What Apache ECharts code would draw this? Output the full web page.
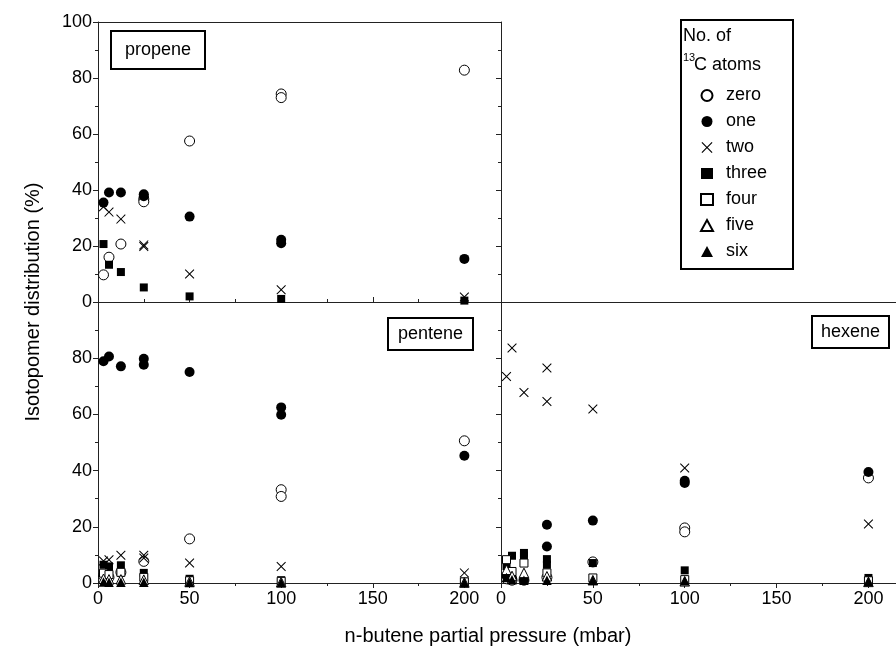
<!DOCTYPE html>
<html>
<head>
<meta charset="utf-8">
<script src="https://cdn.jsdelivr.net/npm/echarts@6/dist/echarts.min.js"></script>
<style>
  html, body { margin: 0; padding: 0; background: #fff; }
  #main { width: 896px; height: 657px; }
</style>
</head>
<body>
<div id="main"></div>
<script>
// number of 13C atoms in the product molecule
const atomNames = ['zero', 'one', 'two', 'three', 'four', 'five', 'six'];
const xTickValues = [0, 50, 100, 150, 200];

// propene  [n-butene pressure (mbar), isotopomer share (%)]
const propeneZero = [[3, 9.7], [6, 16], [12.5, 20.7], [25, 36.8], [25, 35.8], [50, 57.5], [100, 74.3], [100, 73], [200, 82.8]];
const propeneOne = [[3, 35.5], [6, 39.1], [12.5, 39.1], [25, 38.5], [25, 37.8], [50, 30.5], [100, 22.2], [100, 21], [200, 15.4]];
const propeneTwo = [[3, 34], [6, 32.1], [12.5, 29.6], [25, 20.4], [25, 19.8], [50, 10], [100, 4.4], [200, 1.8]];
const propeneThree = [[3, 20.7], [6, 13.3], [12.5, 10.7], [25, 5.2], [50, 2], [100, 1.1], [200, 0.5]];
const propeneFour = [];
const propeneFive = [];
const propeneSix = [];

// pentene
const penteneZero = [[3, 2.5], [6, 2], [12.5, 3.8], [25, 7.7], [50, 15.7], [100, 33.2], [100, 30.8], [200, 50.6]];
const penteneOne = [[3, 78.9], [6, 80.6], [12.5, 77.1], [25, 79.8], [25, 77.7], [50, 75.1], [100, 62.5], [100, 59.9], [200, 45.3]];
const penteneTwo = [[3, 7.8], [6, 8.3], [12.5, 9.9], [25, 9.9], [25, 8.9], [50, 7.1], [100, 5.9], [200, 3.6]];
const penteneThree = [[3, 6.5], [6, 5.9], [12.5, 6.3], [25, 3.6], [50, 1.5], [100, 1], [200, 0.5]];
const penteneFour = [[3, 3.5], [6, 3], [12.5, 3.8], [25, 2], [50, 0.8], [100, 0.6], [200, 0.4]];
const penteneFive = [[3, 1.5], [6, 1.3], [12.5, 1.3], [25, 1.2], [50, 0.5], [100, 0.3], [200, 0.2]];
const penteneSix = [[3, 0.4], [6, 0.3], [12.5, 0.3], [25, 0.3], [50, 0.2], [100, 0.1], [200, 0.1]];

// hexene
const hexeneZero = [[3, 1.5], [6, 1], [12.5, 1], [25, 2], [50, 7.5], [100, 19.6], [100, 18.2], [200, 37.4]];
const hexeneOne = [[3, 2.5], [6, 1.8], [12.5, 1.2], [25, 20.7], [25, 13], [50, 22.2], [100, 36.4], [100, 35.6], [200, 39.5]];
const hexeneTwo = [[3, 73.5], [6, 83.6], [12.5, 67.8], [25, 76.5], [25, 64.6], [50, 61.9], [100, 40.9], [200, 21]];
const hexeneThree = [[3, 6], [6, 9.7], [12.5, 10.7], [12.5, 9.7], [25, 8.5], [25, 6.5], [50, 7.1], [100, 4.5], [200, 1.8]];
const hexeneFour = [[3, 8.3], [6, 4.1], [12.5, 7.1], [25, 3.6], [50, 1.8], [100, 1.2], [200, 0.8]];
const hexeneFive = [[3, 4.7], [6, 2.5], [12.5, 3.6], [25, 2.4], [50, 1], [100, 0.6], [200, 0.4]];
const hexeneSix = [[3, 2], [6, 1.2], [12.5, 1], [25, 1], [50, 1], [100, 0.8], [200, 0.5]];

const font = 'Liberation Sans';
const lineCol = '#222';
// thin x drawn as a filled outline
const crossPath = 'path://M0,1.5L1.5,0L10,8.5L18.5,0L20,1.5L11.5,10L20,18.5L18.5,20L10,11.5L1.5,20L0,18.5L8.5,10Z';

const markers = [
  { symbol: 'circle', size: 10, filled: false },
  { symbol: 'circle', size: 10, filled: true },
  { symbol: crossPath, size: 9.5, filled: true },
  { symbol: 'rect', size: 8, filled: true },
  { symbol: 'rect', size: 8, filled: false },
  { symbol: 'triangle', size: 9.5, filled: false },
  { symbol: 'triangle', size: 9.5, filled: true }
];

function makeSeries (panelData, xIdx, yIdx) {
  return panelData.map((d, i) => {
    const m = markers[i];
    return {
      name: atomNames[i],
      type: 'scatter',
      xAxisIndex: xIdx,
      yAxisIndex: yIdx,
      data: d,
      symbol: m.symbol,
      symbolSize: m.size,
      itemStyle: m.filled
        ? { color: '#000', borderWidth: 0, opacity: 1 }
        : { color: '#fff', borderColor: '#000', borderWidth: 1, opacity: 1 },
      emphasis: { disabled: true },
      z: 3 + i * 0.01
    };
  });
}

// axis helpers
function lineOnly (extra) {
  return Object.assign({
    type: 'value',
    axisLine: { show: true, onZero: false, lineStyle: { color: lineCol, width: 1 } },
    axisTick: { show: false },
    axisLabel: { show: false },
    splitLine: { show: false }
  }, extra);
}

function xBottom (grid, max, withLabels, inside) {
  return {
    type: 'value', gridIndex: grid, position: 'bottom', min: 0, max: max, interval: 50,
    axisLine: { show: true, onZero: false, lineStyle: { color: lineCol, width: 1 } },
    axisTick: { show: true, inside: inside, length: 5, lineStyle: { color: lineCol } },
    minorTick: { show: true, splitNumber: 2, length: 3, lineStyle: { color: lineCol } },
    axisLabel: {
      show: withLabels, margin: 7, fontSize: 18, fontFamily: font, color: '#000',
      showMaxLabel: false,
      formatter: v => (xTickValues.indexOf(v) >= 0 ? String(v) : '')
    },
    splitLine: { show: false }
  };
}

function yLeft (grid, showTop) {
  return {
    type: 'value', gridIndex: grid, position: 'left', min: 0, max: 100, interval: 20,
    axisLine: { show: true, onZero: false, lineStyle: { color: lineCol, width: 1 } },
    axisTick: { show: true, inside: false, length: 5, lineStyle: { color: lineCol } },
    minorTick: { show: true, splitNumber: 2, length: 3, lineStyle: { color: lineCol } },
    axisLabel: { margin: 6, fontSize: 18, fontFamily: font, color: '#000', showMaxLabel: showTop },
    splitLine: { show: false }
  };
}

function yRight (grid) {
  return {
    type: 'value', gridIndex: grid, position: 'right', min: 0, max: 100, interval: 20,
    axisLine: { show: true, onZero: false, lineStyle: { color: lineCol, width: 1 } },
    axisTick: { show: true, inside: true, length: 5, lineStyle: { color: lineCol } },
    minorTick: { show: true, splitNumber: 2, length: 3, lineStyle: { color: lineCol } },
    axisLabel: { show: false },
    splitLine: { show: false }
  };
}

function panelLabel (text, left, top, pad) {
  return {
    text: text, left: left, top: top, padding: pad,
    borderColor: '#000', borderWidth: 2,
    textStyle: { fontSize: 18, fontWeight: 'normal', fontFamily: font, color: '#000', lineHeight: 20 }
  };
}

const chart = echarts.init(document.getElementById('main'), null, { renderer: 'canvas' });

chart.setOption({
  animation: false,
  backgroundColor: '#fff',
  textStyle: { fontFamily: font },
  title: [
    panelLabel('propene', 111, 31, [9, 14, 9, 14]),
    panelLabel('pentene', 388, 318, [6, 10, 6, 10]),
    panelLabel('hexene', 812, 316, [6, 9, 6, 9])
  ],
  grid: [
    { left: 98, top: 22, width: 403, height: 280 },
    { left: 98, top: 302, width: 403, height: 281 },
    { left: 501, top: 302, width: 395, height: 281 }
  ],
  xAxis: [
    xBottom(0, 220, false, true),
    lineOnly({ gridIndex: 0, position: 'top', min: 0, max: 220 }),
    xBottom(1, 220, true, false),
    xBottom(2, 215, true, false),
    lineOnly({ gridIndex: 2, position: 'top', min: 0, max: 215 })
  ],
  yAxis: [
    yLeft(0, true),
    yRight(0),
    yLeft(1, false),
    yRight(1),
    lineOnly({ gridIndex: 2, position: 'left', min: 0, max: 100 })
  ],
  legend: {
    data: atomNames,
    orient: 'vertical',
    left: 700,
    top: 86,
    padding: 0,
    itemWidth: 12,
    itemHeight: 11,
    itemGap: 7,
    selectedMode: false,
    textStyle: { fontSize: 18, fontFamily: font, color: '#000', lineHeight: 19, padding: [0, 0, 0, 8] }
  },
  graphic: [
    { type: 'rect', shape: { x: 681, y: 20, width: 112, height: 249 }, style: { fill: 'none', stroke: '#000', lineWidth: 2 }, z: 1 },
    { type: 'text', x: 683, y: 36, style: { text: 'No. of', fontSize: 18, fontFamily: font, fill: '#000', verticalAlign: 'middle' } },
    { type: 'text', x: 683, y: 58, style: { text: '13', fontSize: 11, fontFamily: font, fill: '#000', verticalAlign: 'middle' } },
    { type: 'text', x: 694, y: 65, style: { text: 'C atoms', fontSize: 18, fontFamily: font, fill: '#000', verticalAlign: 'middle' } },
    { type: 'text', x: 33, y: 302, rotation: Math.PI / 2, style: { text: 'Isotopomer distribution (%)', fontSize: 20, fontFamily: font, fill: '#000', align: 'center', verticalAlign: 'middle' } },
    { type: 'text', x: 488, y: 636, style: { text: 'n-butene partial pressure (mbar)', fontSize: 20, fontFamily: font, fill: '#000', align: 'center', verticalAlign: 'middle' } }
  ],
  series: [].concat(
    makeSeries([propeneZero, propeneOne, propeneTwo, propeneThree, propeneFour, propeneFive, propeneSix], 0, 0),
    makeSeries([penteneZero, penteneOne, penteneTwo, penteneThree, penteneFour, penteneFive, penteneSix], 2, 2),
    makeSeries([hexeneZero, hexeneOne, hexeneTwo, hexeneThree, hexeneFour, hexeneFive, hexeneSix], 3, 4)
  )
});
</script>
</body>
</html>
